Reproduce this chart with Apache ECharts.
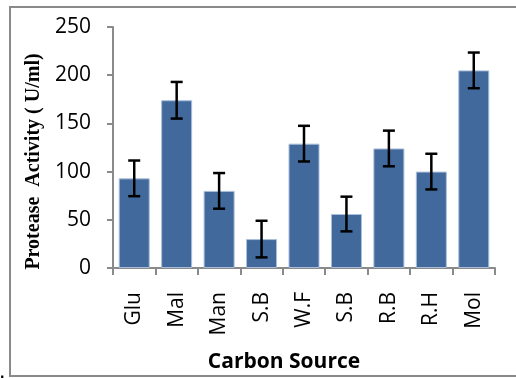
<!DOCTYPE html>
<html>
<head>
<meta charset="utf-8">
<script src="https://cdn.jsdelivr.net/npm/echarts@6/dist/echarts.min.js"></script>
<style>
html,body{margin:0;padding:0;background:#fff;}
#chart{width:516px;height:378px;}
</style>
</head>
<body>
<div id="chart"></div>
<script>
var categories = ['Glu', 'Mal', 'Man', 'S.B', 'W.F', 'S.B', 'R.B', 'R.H', 'Mol'];
var activity = [93, 174, 80, 30, 129, 56, 124, 100, 205];
var errors = [18.5, 19, 18.5, 19, 18.5, 18, 18.5, 18.5, 18.5];
var yTicks = {min: 0, max: 250, interval: 50};

var chart = echarts.init(document.getElementById('chart'), null, {renderer: 'canvas'});

var errData = categories.map(function (c, i) {
  return [i, activity[i] - errors[i], activity[i] + errors[i]];
});

chart.setOption({
  animation: false,
  backgroundColor: '#ffffff',
  graphic: [
    {type: 'rect', shape: {x: 10, y: 7, width: 520, height: 369}, style: {fill: 'none', stroke: '#8a8a8a', lineWidth: 2}},
    {type: 'text', left: 0, top: 366, style: {text: '.', font: 'bold 16px "Liberation Sans"', fill: '#000'}}
  ],
  grid: {left: 113, right: 21, top: 27, bottom: 109, containLabel: false},
  xAxis: {
    type: 'category',
    data: categories,
    name: 'Carbon Source',
    nameLocation: 'middle',
    nameGap: 84,
    nameTextStyle: {fontFamily: 'Open Sans', fontWeight: 'bold', fontSize: 21, color: '#000', padding: [0, 40, 0, 0]},
    axisLine: {lineStyle: {color: '#8a8a8a', width: 2}},
    axisTick: {show: true, length: 7, lineStyle: {color: '#8a8a8a', width: 2}},
    axisLabel: {rotate: 90, margin: 24, fontFamily: 'Open Sans', fontSize: 21, color: '#000'}
  },
  yAxis: {
    type: 'value',
    min: yTicks.min, max: yTicks.max, interval: yTicks.interval,
    name: 'Protease  Activity ( U/ml)',
    nameLocation: 'middle',
    nameRotate: 90,
    nameGap: 68,
    nameTextStyle: {fontFamily: 'Liberation Serif', fontWeight: 'bold', fontSize: 20, color: '#000', padding: [0, 28, 0, 0]},
    splitLine: {show: false},
    axisLine: {show: true, lineStyle: {color: '#8a8a8a', width: 2}},
    axisTick: {show: true, length: 6, lineStyle: {color: '#8a8a8a', width: 2}},
    axisLabel: {margin: 22, fontFamily: 'Open Sans', fontSize: 21, color: '#000'}
  },
  series: [
    {
      type: 'bar',
      data: activity,
      barWidth: 31,
      itemStyle: {color: '#41699b', borderColor: '#a9bedb', borderWidth: 1}
    },
    {
      type: 'custom',
      data: errData,
      z: 10,
      renderItem: function (params, api) {
        var x = api.value(0);
        var lo = api.coord([x, api.value(1)]);
        var hi = api.coord([x, api.value(2)]);
        var half = 6;
        var st = {stroke: '#000', lineWidth: 2.5};
        return {
          type: 'group',
          children: [
            {type: 'line', shape: {x1: lo[0], y1: lo[1], x2: hi[0], y2: hi[1]}, style: st},
            {type: 'line', shape: {x1: lo[0] - half, y1: lo[1], x2: lo[0] + half, y2: lo[1]}, style: st},
            {type: 'line', shape: {x1: hi[0] - half, y1: hi[1], x2: hi[0] + half, y2: hi[1]}, style: st}
          ]
        };
      }
    }
  ]
});
</script>
</body>
</html>
